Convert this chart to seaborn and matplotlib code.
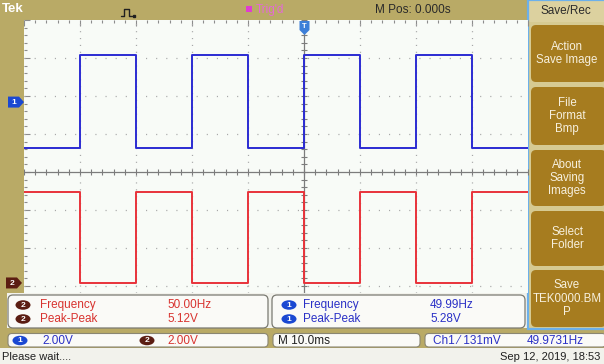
import numpy as np
import pandas as pd
import matplotlib
matplotlib.use("Agg")
import matplotlib.pyplot as plt
import seaborn as sns
from matplotlib.patches import Rectangle, FancyBboxPatch, Polygon, Ellipse
from matplotlib.ticker import MultipleLocator

# ---------------- data ----------------
time_ms = [-50, -40, -40, -30, -30, -20, -20, -10, -10, 0, 0, 10, 10, 20, 20, 30, 30, 40]
ch1_volts = [-2.42, -2.42, 2.47, 2.47, -2.42, -2.42, 2.47, 2.47, -2.42, -2.42,
             2.47, 2.47, -2.42, -2.42, 2.47, 2.47, -2.42, -2.42]
ch2_volts = [4.79, 4.79, 0.0, 0.0, 4.79, 4.79, 0.0, 0.0, 4.79, 4.79,
             0.0, 0.0, 4.79, 4.79, 0.0, 0.0, 4.79, 4.79]

meas_labels = ["Frequency", "Peak-Peak"]
ch2_meas = ["50.00Hz", "5.12V"]
ch1_meas = ["49.99Hz", "5.28V"]
ch1_scale = "2.00V"
ch2_scale = "2.00V"
timebase = "M 10.0ms"
trigger_info = ["Ch1 \u2044 131mV", "49.9731Hz"]
menu_title = "Save/Rec"
menu_items = ["Action\nSave Image", "File\nFormat\nBmp", "About\nSaving\nImages",
              "Select\nFolder", "Save\nTEK0000.BM\nP"]
status_text = "Please wait...."
date_text = "Sep 12, 2019, 18:53"
mpos_text = "M Pos: 0.000s"
trig_text = "Trig'd"

# ---------------- scope settings (styling) ----------------
volts_per_div = 2.0
ch1_offset_div = 1.84
ch2_offset_div = -2.92

df = pd.DataFrame({
    "t": time_ms,
    "ch1": np.array(ch1_volts) / volts_per_div + ch1_offset_div,
    "ch2": np.array(ch2_volts) / volts_per_div + ch2_offset_div,
})

sns.set_style("white")
plt.rcParams["font.family"] = ["Liberation Sans", "DejaVu Sans"]

W, H = 604, 364
fig = plt.figure(figsize=(W / 100, H / 100), dpi=100)

khaki = "#b9aa66"
menu_bg = "#d6ca92"
button = "#a67c1f"
button_text = "#f7f0de"
blue_border = "#6cb0ea"
panel_bg = "#f2f2ec"
blue_text = "#2a30c6"
red_text = "#d8332f"
brown = "#5b1d12"
badge_blue = "#1a48d2"
trace_blue = "#2b2bd2"
trace_red = "#e8323a"
grid_col = "#a8a8a8"

# background layer in pixel coordinates
bg = fig.add_axes([0, 0, 1, 1], zorder=0)
bg.set_xlim(0, W)
bg.set_ylim(H, 0)
bg.axis("off")

def rect(a, x0, y0, x1, y1, fc, ec="none", lw=0, z=1):
    a.add_patch(Rectangle((x0, y0), x1 - x0, y1 - y0, fc=fc, ec=ec, lw=lw, zorder=z))

def rbox(a, x0, y0, x1, y1, fc, ec="none", lw=0, r=4, z=2):
    a.add_patch(FancyBboxPatch((x0, y0), x1 - x0, y1 - y0,
                               boxstyle=f"round,pad=0,rounding_size={r}",
                               fc=fc, ec=ec, lw=lw, zorder=z))

def badge(a, x, y, num, col):
    a.add_patch(Ellipse((x, y), 15, 9.5, fc=col, ec="none", zorder=4))
    a.text(x, y + 0.3, num, color="white", fontsize=6, fontweight="bold",
           ha="center", va="center", zorder=5)

# overall panel background
rect(bg, 0, 0, W, H, panel_bg, z=0)
# top bar and left strip
rect(bg, 0, 0, 528, 20, khaki)
rect(bg, 0, 0, 24, 293, khaki)
rect(bg, 0, 293, 7, 329, khaki)
# khaki band + status row
rect(bg, 0, 328, W, 348, khaki)

bg.text(2, 9.5, "Tek", color="white", fontsize=9.5, fontweight="bold", va="center", ha="left", zorder=3)
bg.plot([121, 124, 124, 129, 129, 132], [16, 16, 9, 9, 16, 16], color="#202020", lw=1.0, zorder=3)
bg.plot([133.5], [16], marker="s", ms=1.5, color="#202020", zorder=3)
bg.add_patch(Rectangle((246, 6), 6, 6, fc="#e03cd0", ec="none", zorder=3))
bg.text(256, 10, trig_text, color="#e46ad6", fontsize=8.5, va="center", ha="left", zorder=3)
bg.text(375, 10, mpos_text, color="#2a2a2a", fontsize=8.5, va="center", ha="left", zorder=3)

# menu
rect(bg, 527, 0, W, 330, menu_bg)
rect(bg, 529, 0, W, 22, "#dcd19f", z=1.5)
bg.text(566, 11, menu_title, color="#2b2b2b", fontsize=8.5, ha="center", va="center", zorder=3)
button_spans = [(25, 82), (87, 145), (150, 206), (211, 266), (270, 327)]
for (y0, y1), label in zip(button_spans, menu_items):
    rbox(bg, 531, y0, 606, y1, button, r=5)
    bg.text(567, (y0 + y1) / 2, label, color=button_text, fontsize=8.3, ha="center",
            va="center", linespacing=1.15, zorder=3)
bg.add_patch(Rectangle((528, 0), 80, 329, fc="none", ec=blue_border, lw=1.6, zorder=3))

# measurement boxes
rbox(bg, 8, 295, 268, 328, "#fafaf7", ec="#7a7a72", lw=0.9, r=5)
rbox(bg, 272, 295, 525, 328, "#fafaf7", ec="#7a7a72", lw=0.9, r=5)
rows_y = [305, 319]
for yy, lab, val in zip(rows_y, meas_labels, ch2_meas):
    badge(bg, 23, yy, "2", brown)
    bg.text(40, yy, lab, color=red_text, fontsize=8.5, va="center", ha="left", zorder=3)
    bg.text(167, yy, val, color=red_text, fontsize=8.5, va="center", ha="left", zorder=3)
for yy, lab, val in zip(rows_y, meas_labels, ch1_meas):
    badge(bg, 289, yy, "1", badge_blue)
    bg.text(303, yy, lab, color=blue_text, fontsize=8.5, va="center", ha="left", zorder=3)
    bg.text(430, yy, val, color=blue_text, fontsize=8.5, va="center", ha="left", zorder=3)

# status row
rbox(bg, 8, 333.5, 268, 347, "#fafaf7", ec="#8a8672", lw=0.8, r=4)
rbox(bg, 273, 333.5, 420, 347, "#fafaf7", ec="#8a8672", lw=0.8, r=4)
rbox(bg, 425, 333.5, 606, 347, "#fafaf7", ec="#8a8672", lw=0.8, r=4)
badge(bg, 20, 340.5, "1", badge_blue)
bg.text(42, 340.5, ch1_scale, color=blue_text, fontsize=8.5, va="center", ha="left", zorder=3)
badge(bg, 147, 340.5, "2", brown)
bg.text(167, 340.5, ch2_scale, color=red_text, fontsize=8.5, va="center", ha="left", zorder=3)
bg.text(278, 340.5, timebase, color="#202020", fontsize=8.5, va="center", ha="left", zorder=3)
bg.text(433, 340.5, trigger_info[0], color=blue_text, fontsize=8.5, va="center", ha="left", zorder=3)
bg.text(527, 340.5, trigger_info[1], color=blue_text, fontsize=8.5, va="center", ha="left", zorder=3)

# bottom line
bg.text(2, 356.5, status_text, color="#202020", fontsize=8, va="center", ha="left", zorder=3)
bg.text(600, 356.5, date_text, color="#202020", fontsize=8, va="center", ha="right", zorder=3)

# ---------------- graticule / traces ----------------
x0_px, y0_px, x1_px, y1_px = 24, 20, 528, 293
ax = fig.add_axes([x0_px / W, 1 - y1_px / H, (x1_px - x0_px) / W, (y1_px - y0_px) / H], zorder=1)
ax.set_facecolor("#f8fbf7")
ax.set_xlim(-50, 40)
ax.set_ylim(-(y1_px - 172) / 38.0, 4)

for xv in [-40, -30, -20, -10, 10, 20, 30]:
    ax.axvline(xv, color=grid_col, lw=0.9, ls=(0, (0.9, 4.6)), zorder=1)
for yv in [-3, -2, -1, 1, 2, 3]:
    ax.axhline(yv, color=grid_col, lw=0.9, ls=(0, (0.9, 7.2)), zorder=1)
ax.axvline(0, color="#7c7c7c", lw=0.9, zorder=1.5)
ax.axhline(0, color="#7c7c7c", lw=0.9, zorder=1.5)
minor_x = np.arange(-50, 41, 2)
minor_y = np.arange(-3.2, 4.01, 0.2)
ax.plot(minor_x, np.zeros_like(minor_x), ls="none", marker="|", ms=4, mew=0.8, color="#7c7c7c", zorder=1.5)
ax.plot(np.zeros_like(minor_y), minor_y, ls="none", marker="_", ms=4, mew=0.8, color="#7c7c7c", zorder=1.5)

ax.xaxis.set_major_locator(MultipleLocator(10))
ax.xaxis.set_minor_locator(MultipleLocator(2))
ax.yaxis.set_major_locator(MultipleLocator(1))
ax.yaxis.set_minor_locator(MultipleLocator(0.2))
ax.tick_params(which="both", direction="in", top=True, right=False, bottom=False,
               left=True, labelleft=False, labelbottom=False, color="#8c8c8c", width=0.8)
ax.tick_params(which="major", length=4)
ax.tick_params(which="minor", length=2.5)
for s in ax.spines.values():
    s.set_visible(False)

sns.lineplot(data=df, x="t", y="ch1", estimator=None, sort=False, color=trace_blue,
             lw=1.4, ax=ax, zorder=3)
sns.lineplot(data=df, x="t", y="ch2", estimator=None, sort=False, color=trace_red,
             lw=1.4, ax=ax, zorder=3)
ax.set_xlabel("")
ax.set_ylabel("")

# ---------------- overlay markers ----------------
fg = fig.add_axes([0, 0, 1, 1], zorder=3)
fg.set_xlim(0, W)
fg.set_ylim(H, 0)
fg.axis("off")
ch1_y = 172 - ch1_offset_div * 38
ch2_y = 172 - ch2_offset_div * 38
fg.add_patch(Polygon([(8, ch1_y - 5.5), (19, ch1_y - 5.5), (24, ch1_y), (19, ch1_y + 5.5), (8, ch1_y + 5.5)],
                     closed=True, fc=badge_blue, ec="none", zorder=4))
fg.text(14, ch1_y + 0.3, "1", color="white", fontsize=6, fontweight="bold", ha="center", va="center", zorder=5)
fg.add_patch(Polygon([(6, ch2_y - 5.5), (17, ch2_y - 5.5), (22, ch2_y), (17, ch2_y + 5.5), (6, ch2_y + 5.5)],
                     closed=True, fc=brown, ec="none", zorder=4))
fg.text(12, ch2_y + 0.3, "2", color="white", fontsize=6, fontweight="bold", ha="center", va="center", zorder=5)
fg.add_patch(Polygon([(299.5, 21), (309.5, 21), (309.5, 30), (304.5, 35), (299.5, 30)],
                     closed=True, fc="#3d7fd8", ec="none", zorder=4))
fg.text(304.5, 26.5, "T", color="white", fontsize=5.5, fontweight="bold", ha="center", va="center", zorder=5)

fig.savefig("out.png", dpi=100)
